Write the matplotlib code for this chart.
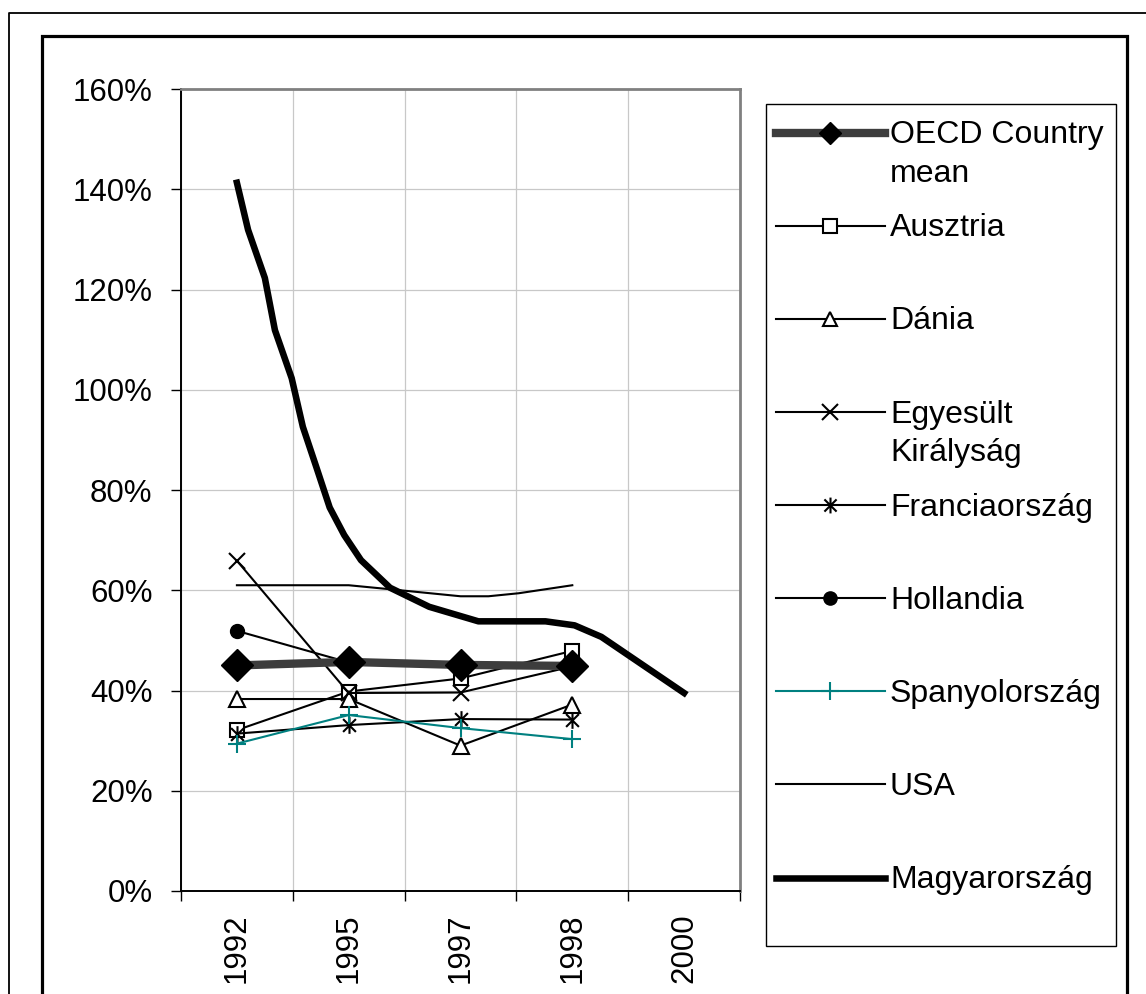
import numpy as np
import matplotlib.pyplot as plt
from matplotlib.path import Path
from matplotlib.patches import Rectangle

plt.rcParams["font.family"] = ["Liberation Sans", "DejaVu Sans"]

# categories on the x axis
years = ["1992", "1995", "1997", "1998", "2000"]

# shares in percent, one value per year (missing years left out)
oecd_mean = [45.0, 45.7, 45.1, 44.9]
ausztria = [32.1, 39.8, 42.4, 47.9]
dania = [38.3, 38.3, 29.0, 37.2]
egyesult = [65.9, 39.5, 39.6, 44.8]
francia = [31.4, 33.1, 34.3, 34.2]
hollandia = [51.9, 45.6]
spanyol = [29.4, 35.1, 32.5, 30.3]

# smoothed series: positions along the category axis and values
usa_pos = [0.0, 1.0, 1.37, 2.0, 2.25, 2.52, 3.0]
usa = [61.0, 61.0, 60.2, 58.8, 58.8, 59.4, 61.0]
magyar_pos = [0.0, 0.10, 0.25, 0.34, 0.49, 0.59, 0.71, 0.83, 0.96, 1.11,
              1.37, 1.72, 2.16, 2.76, 3.02, 3.26, 4.0]
magyar = [141.3, 131.9, 122.3, 111.9, 102.3, 92.6, 84.6, 76.5, 71.0, 66.0,
          60.5, 56.7, 53.8, 53.8, 53.0, 50.7, 39.5]

yticks = list(range(0, 161, 20))

# Excel style star: an x with a vertical bar through it
star = Path([(-1, -1), (1, 1), (-1, 1), (1, -1), (0, -1.3), (0, 1.3)],
            [Path.MOVETO, Path.LINETO, Path.MOVETO, Path.LINETO,
             Path.MOVETO, Path.LINETO])

teal = "#008080"
styles = {
    "OECD Country\nmean": dict(color="#3d3d3d", lw=6, marker="D", ms=16,
                               mfc="black", mec="black", zorder=5),
    "Ausztria": dict(color="black", lw=1.5, marker="s", ms=10, mfc="white",
                     mec="black", mew=1.5, zorder=3),
    "Dánia": dict(color="black", lw=1.5, marker="^", ms=11, mfc="white",
                  mec="black", mew=1.5, zorder=3),
    "Egyesült\nKirályság": dict(color="black", lw=1.5, marker="x", ms=12,
                                mec="black", mew=1.5, zorder=3),
    "Franciaország": dict(color="black", lw=1.5, marker=star, ms=12,
                          mec="black", mew=1.5, zorder=3),
    "Hollandia": dict(color="black", lw=1.5, marker="o", ms=10,
                      mfc="black", mec="black", zorder=3),
    "Spanyolország": dict(color=teal, lw=1.5, marker="+", ms=13,
                          mec=teal, mew=1.5, zorder=3),
    "USA": dict(color="black", lw=1.5, zorder=3),
    "Magyarország": dict(color="black", lw=4.7, zorder=4),
}

W, H = 1146, 994
fig = plt.figure(figsize=(W / 100, H / 100), dpi=100)
ax = fig.add_axes([181 / W, (H - 891) / H, (740 - 181) / W, (891 - 89) / H])

ax.plot(range(len(oecd_mean)), oecd_mean, **styles["OECD Country\nmean"])
ax.plot(range(len(ausztria)), ausztria, **styles["Ausztria"])
ax.plot(range(len(dania)), dania, **styles["Dánia"])
ax.plot(range(len(egyesult)), egyesult, **styles["Egyesült\nKirályság"])
ax.plot(range(len(francia)), francia, **styles["Franciaország"])
ax.plot(range(len(hollandia)), hollandia, **styles["Hollandia"])
ax.plot(range(len(spanyol)), spanyol, **styles["Spanyolország"])
ax.plot(usa_pos, usa, **styles["USA"])
ax.plot(magyar_pos, magyar, solid_joinstyle="round", **styles["Magyarország"])

ax.set_xlim(-0.5, len(years) - 0.5)
ax.set_ylim(0, 160)
ax.set_xticks(range(len(years)))
ax.set_xticklabels(years, rotation=90, fontsize=22.5)
ax.set_xticks(np.arange(-0.5, len(years), 1.0), minor=True)
ax.tick_params(axis="x", which="major", length=0, pad=16)
ax.tick_params(axis="x", which="minor", length=7.5, width=1, direction="out")
ax.set_yticks(yticks)
ax.set_yticklabels([f"{v}%" for v in yticks], fontsize=22.5)
ax.tick_params(axis="y", length=7.5, width=1, direction="out", pad=13)
ax.grid(axis="x", which="minor", color="#c8c8c8", lw=0.9)
ax.grid(axis="y", which="major", color="#c8c8c8", lw=0.9)
ax.set_axisbelow(True)
for side in ("left", "bottom"):
    ax.spines[side].set_color("black")
    ax.spines[side].set_linewidth(1.4)
for side in ("top", "right"):
    ax.spines[side].set_color("#808080")
    ax.spines[side].set_linewidth(2)

# overlay in pixel units for the frames and the legend
ov = fig.add_axes([0, 0, 1, 1], zorder=10)
ov.set_xlim(0, W)
ov.set_ylim(H, 0)
ov.axis("off")
ov.patch.set_alpha(0)

# outer thin border and inner heavy frame, both running off the page
ov.plot([1300, 9, 9], [13, 13, 1300], color="black", lw=1.3, clip_on=False)
ov.plot([42, 42, 1126.5, 1126.5], [1300, 36, 36, 1300], color="black",
        lw=2.3, clip_on=False, solid_joinstyle="miter")

ov.add_patch(Rectangle((766, 104), 1116 - 766, 946 - 104, fill=True,
                       facecolor="white", edgecolor="black", lw=1))

for i, (label, st) in enumerate(styles.items()):
    hy = 132.7 + i * 93.1
    st = dict(st)
    st.pop("zorder", None)
    if "ms" in st:
        st["ms"] = st["ms"] * (0.72 if label.startswith("OECD") else 0.95)
    ov.plot([776, 830, 885], [hy, hy, hy], markevery=[1], **st)
    for j, line in enumerate(label.split("\n")):
        ov.text(890, hy + 10.5 + j * 38.7, line, fontsize=23, va="baseline",
                ha="left")

fig.savefig("out.png", dpi=100)
plt.close(fig)
